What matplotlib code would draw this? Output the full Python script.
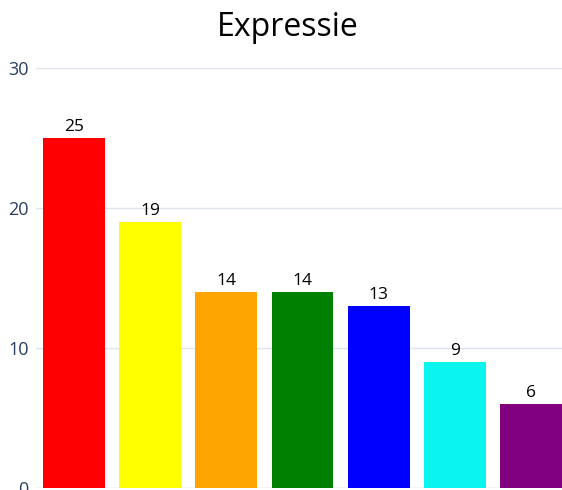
import matplotlib.pyplot as plt

categories = ['Rood', 'Geel', 'Oranje', 'Groen', 'Blauw', 'Cyaan', 'Paars']
values = [25, 19, 14, 14, 13, 9, 6]
colors = ['#ff0000', '#ffff00', '#ffa500', '#008000', '#0000ff', '#0af5f0', '#800080']

plt.rcParams['font.family'] = ['Open Sans', 'DejaVu Sans']

fig = plt.figure(figsize=(5.62, 4.90), dpi=100)
ax = fig.add_axes([35.5/562, 2/490, 534/562, 420/490])

x = range(len(categories))
bars = ax.bar(x, values, width=0.81, color=colors, zorder=3)
for b, v in zip(bars, values):
    ax.text(b.get_x() + b.get_width()/2, v + 0.2, str(v), ha='center', va='bottom',
            fontsize=12.5, color='black', zorder=4)

ax.set_xlim(-0.5, len(categories) - 0.5)
ax.set_ylim(0, 30)
ax.set_yticks([0, 10, 20, 30])
ax.set_xticks([])
ax.grid(axis='y', color='#dfe4ec', linewidth=1, zorder=0)
ax.tick_params(axis='y', length=0, labelsize=13, labelcolor='#2a3f5f', pad=5)
for s in ax.spines.values():
    s.set_visible(False)
ax.axhline(0, color='#dfe4ec', linewidth=1, zorder=1)

fig.text(0.512, 0.943, 'Expressie', ha='center', va='center', fontsize=23, color='black')

fig.savefig('out.png', dpi=100)
